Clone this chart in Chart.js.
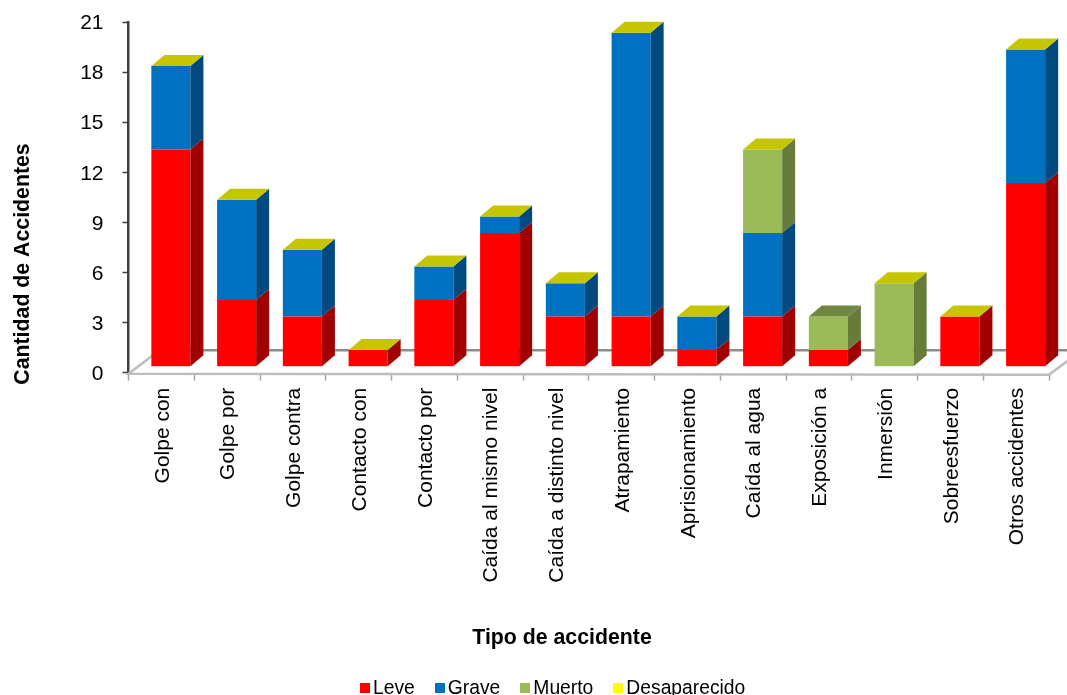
<!DOCTYPE html>
<html>
<head>
<meta charset="utf-8">
<title>Tipo de accidente</title>
<script src="https://cdn.jsdelivr.net/npm/chart.js@4"></script>
<style>
  body { margin: 0; background: #fff; }
  #wrap { position: relative; width: 1067px; height: 695px; overflow: hidden; }
  #legend {
    position: absolute; left: 360px; top: 677px; display: flex;
    font: 19.3px "Liberation Sans", Arial, sans-serif; color: #000;
  }
  #legend div { display: flex; align-items: center; margin-right: 20px; white-space: nowrap; }
  #legend i { display: block; width: 10px; height: 10px; margin-right: 3px; }
</style>
</head>
<body>
<div id="wrap">
  <canvas id="chart" width="1067" height="695"></canvas>
  <div id="legend"></div>
</div>
<script>
const categories = ["Golpe con", "Golpe por", "Golpe contra", "Contacto con", "Contacto por",
  "Caída al mismo nivel", "Caída a distinto nivel", "Atrapamiento", "Aprisionamiento",
  "Caída al agua", "Exposición a", "Inmersión", "Sobreesfuerzo", "Otros accidentes"];
const leve = [13, 4, 3, 1, 4, 8, 3, 3, 1, 3, 1, 0, 3, 11];
const grave = [5, 6, 4, 0, 2, 1, 2, 17, 2, 5, 0, 0, 0, 8];
const muerto = [0, 0, 0, 0, 0, 0, 0, 0, 0, 5, 2, 5, 0, 0];
// Exposición a has no empty yellow cap in the picture, so null there
const desaparecido = [0, 0, 0, 0, 0, 0, 0, 0, 0, 0, null, 0, 0, 0];

const yMax = 21;
const yStep = 3;
const font = "Liberation Sans";

// bars sit in front of the axis plane
const shiftX = 9.5, shiftY = -6;
const depthX = 13, depthY = 11;

function face(ctx, pts, color) {
  ctx.fillStyle = color;
  ctx.beginPath();
  pts.forEach((p, i) => (i ? ctx.lineTo(p[0], p[1]) : ctx.moveTo(p[0], p[1])));
  ctx.closePath();
  ctx.fill();
}

const floorPlugin = {
  id: "floor",
  beforeDatasetsDraw(chart) {
    const { ctx, chartArea: a } = chart;
    ctx.save();
    ctx.lineWidth = 2.5;
    ctx.strokeStyle = "#8c8c8c";
    ctx.beginPath();
    ctx.moveTo(a.left + 31, a.bottom - 22.5);
    ctx.lineTo(1067, a.bottom - 22.5);
    ctx.stroke();
    ctx.strokeStyle = "#bdbdbd";
    ctx.beginPath();
    ctx.moveTo(a.left + 31, a.bottom - 22.5);
    ctx.lineTo(a.left, a.bottom + 1);
    ctx.lineTo(a.right, a.bottom + 2);
    ctx.lineTo(a.right + 31, a.bottom - 21);
    ctx.stroke();
    ctx.restore();
    ctx.save();
    ctx.translate(shiftX, shiftY);
  },
  afterDatasetsDraw(chart) {
    const ctx = chart.ctx;
    const topFace = {};
    chart.data.datasets.forEach((ds, d) => {
      chart.getDatasetMeta(d).data.forEach((bar, i) => {
        if (ds.data[i] === null) return;
        const r = bar.x + bar.width / 2;
        face(ctx, [[r, bar.y], [r + depthX, bar.y - depthY], [r + depthX, bar.base - depthY], [r, bar.base]], ds.sideColor);
        topFace[i] = { bar, color: ds.topColor };
      });
    });
    Object.values(topFace).forEach(({ bar, color }) => {
      const l = bar.x - bar.width / 2, r = bar.x + bar.width / 2;
      face(ctx, [[l, bar.y], [l + depthX, bar.y - depthY], [r + depthX, bar.y - depthY], [r, bar.y]], color);
    });
    ctx.restore();
  },
};

const axisTitles = {
  id: "axisTitles",
  afterDraw(chart) {
    const ctx = chart.ctx;
    ctx.save();
    ctx.fillStyle = "#000";
    ctx.font = "bold 21.3px '" + font + "'";
    ctx.textAlign = "center";
    ctx.textBaseline = "middle";
    ctx.fillText("Tipo de accidente", 562, 638);
    ctx.translate(23.5, 264);
    ctx.rotate(-Math.PI / 2);
    ctx.fillText("Cantidad de Accidentes", 0, 0);
    ctx.restore();
  },
};

const myChart = new Chart(document.getElementById("chart"), {
  type: "bar",
  plugins: [floorPlugin, axisTitles],
  data: {
    labels: categories,
    datasets: [
      { label: "Leve", data: leve, backgroundColor: "#ff0000", sideColor: "#a00000", topColor: "#ff0000" },
      { label: "Grave", data: grave, backgroundColor: "#0070c0", sideColor: "#004a7f", topColor: "#0070c0" },
      { label: "Muerto", data: muerto, backgroundColor: "#9bbb59", sideColor: "#677c3b", topColor: "#6f8740" },
      { label: "Desaparecido", data: desaparecido, backgroundColor: "#ffff00", sideColor: "#a8a800", topColor: "#c6c600" },
    ],
  },
  options: {
    responsive: false,
    animation: false,
    layout: { padding: { top: 22, right: 18 } },
    datasets: { bar: { barPercentage: 0.594, categoryPercentage: 1 } },
    plugins: { legend: { display: false }, tooltip: { enabled: false } },
    scales: {
      x: {
        stacked: true,
        afterFit: (scale) => { scale.height = 322.3; scale.paddingTop = 0; scale.paddingBottom = 0; },
        border: { display: false },
        grid: { offset: true, drawOnChartArea: false, tickLength: 8, tickColor: "#a6a6a6", tickWidth: 1.5 },
        ticks: { minRotation: 90, maxRotation: 90, autoSkip: false, padding: 7, labelOffset: 1.5, color: "#000", font: { family: font, size: 21 } },
      },
      y: {
        stacked: true,
        min: 0,
        max: yMax,
        afterFit: (scale) => { scale.width = 128.5; scale.paddingTop = 0; scale.paddingBottom = 0; },
        border: { color: "#404040", width: 2.5 },
        grid: { drawOnChartArea: false, tickLength: 6, tickColor: "#404040", tickWidth: 1.5 },
        ticks: { stepSize: yStep, padding: 19, labelOffset: 1.5, color: "#000", font: { family: font, size: 21 } },
      },
    },
  },
});

document.getElementById("legend").innerHTML = myChart.data.datasets
  .map((ds) => `<div><i style="background:${ds.backgroundColor}"></i>${ds.label}</div>`)
  .join("");
</script>
</body>
</html>
